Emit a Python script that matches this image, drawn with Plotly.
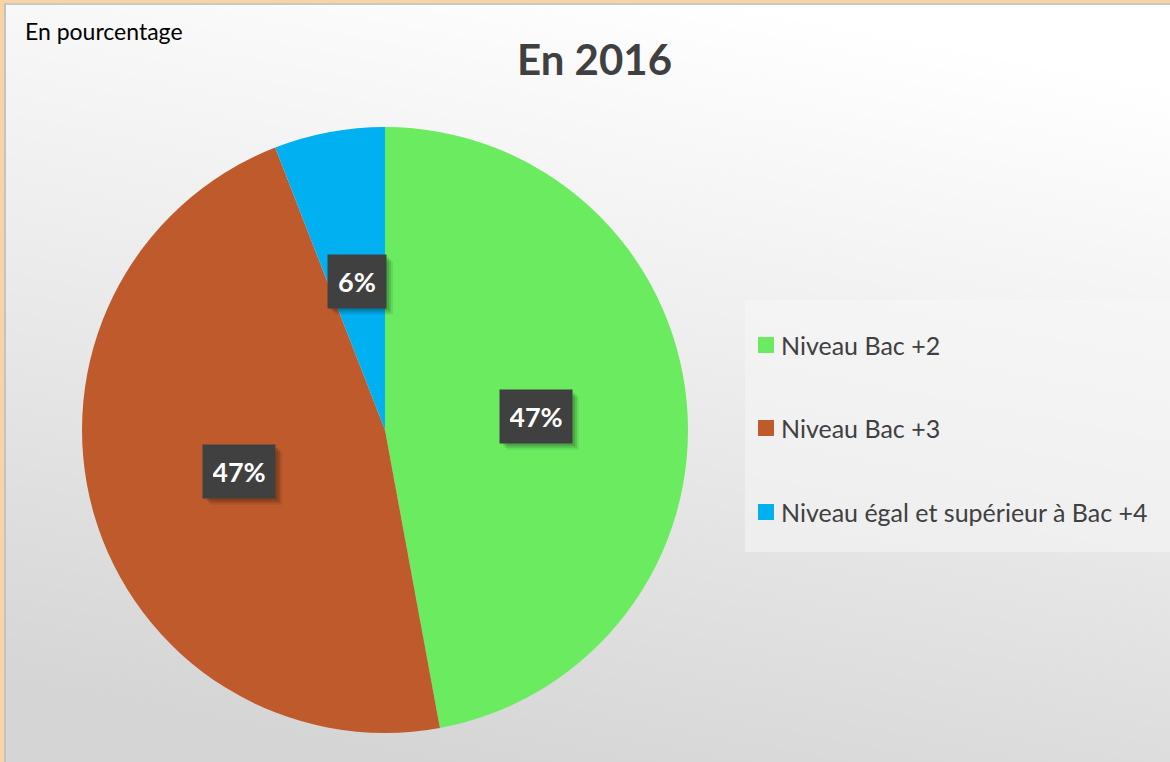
import math
import urllib.parse
import plotly.graph_objects as go

# ---- data ----
categories = ["Niveau Bac +2", "Niveau Bac +3", "Niveau égal et supérieur à Bac +4"]
values = [47.1, 47.0, 5.9]
colors = ["#6AEB60", "#BE5A2C", "#00B0F0"]
title_text = "En 2016"
unit_text = "En pourcentage"

W, H = 1170, 762
FONT = "Lato"

# pie geometry (pixels)
cx_px, cy_px, r_px = 385, 430, 303
dom_x = [(cx_px - r_px) / W, (cx_px + r_px) / W]
dom_y = [(H - cy_px - r_px) / H, (H - cy_px + r_px) / H]

fig = go.Figure()
fig.add_trace(go.Pie(
    labels=categories, values=values, sort=False, direction="clockwise", rotation=0,
    marker=dict(colors=colors, line=dict(width=0)),
    textinfo="none", hoverinfo="label+percent", showlegend=False,
    domain=dict(x=dom_x, y=dom_y),
))

# background gradient via inline svg
svg = (
    f'<svg xmlns="http://www.w3.org/2000/svg" width="{W-4}" height="{H-3}">'
    '<defs><linearGradient id="g" x1="0.65" y1="0" x2="0.35" y2="1">'
    '<stop offset="0" stop-color="#ffffff"/><stop offset="0.4" stop-color="#efefef"/>'
    '<stop offset="1" stop-color="#d5d5d5"/></linearGradient></defs>'
    f'<rect width="{W-4}" height="{H-3}" fill="url(#g)"/>'
    f'<line x1="1" y1="0" x2="1" y2="{H-3}" stroke="#c3c3c3" stroke-width="2"/>'
    f'<line x1="0" y1="1" x2="{W-4}" y2="1" stroke="#c8c8c8" stroke-width="2"/>'
    '</svg>'
)
src = "data:image/svg+xml;charset=utf-8," + urllib.parse.quote(svg)

images = [dict(source=src, xref="paper", yref="paper", x=4 / W, y=1 - 3 / H,
               sizex=1 - 4 / W, sizey=1 - 3 / H, sizing="stretch",
               xanchor="left", yanchor="top", layer="below")]

annotations = []
shapes = []

# data labels at mid-angle, half radius
BW, BH, PAD = 72, 53, 10
total = sum(values)
cum = 0
for v in values:
    mid = (cum + v / 2) / total * 2 * math.pi
    cum += v
    px = cx_px + 0.5 * r_px * math.sin(mid)
    py = cy_px - 0.5 * r_px * math.cos(mid)
    txt = f"{round(v / total * 100)}%"
    bw = BW if len(txt) > 2 else 58
    # soft shadow
    for off, a in ((7, 0.07), (5, 0.12), (3, 0.12)):
        shapes.append(dict(type="rect", xref="paper", yref="paper",
                           x0=(px - bw / 2 + off) / W, x1=(px + bw / 2 + off) / W,
                           y0=1 - (py + BH / 2 + off) / H, y1=1 - (py - BH / 2 + off) / H,
                           fillcolor=f"rgba(0,0,0,{a})", line=dict(width=0)))
    annotations.append(dict(x=px / W, y=1 - py / H, xref="paper", yref="paper",
                            xanchor="center", yanchor="middle",
                            text=f"<b>{txt}</b>", showarrow=False,
                            width=bw - 2 * PAD, height=BH - 2 * PAD, align="center", valign="middle",
                            font=dict(family=FONT, size=27, color="#ffffff"),
                            bgcolor="#404040", borderpad=PAD))

# legend box
shapes.append(dict(type="rect", xref="paper", yref="paper",
                   x0=745 / W, x1=1, y0=1 - 552 / H, y1=1 - 300 / H,
                   fillcolor="rgba(248,248,248,0.5)", line=dict(width=0), layer="below"))
leg_y = [345, 428, 512]
for cat, col, ly in zip(categories, colors, leg_y):
    shapes.append(dict(type="rect", xref="paper", yref="paper",
                       x0=758 / W, x1=774 / W, y0=1 - (ly + 8) / H, y1=1 - (ly - 8) / H,
                       fillcolor=col, line=dict(width=0)))
    annotations.append(dict(x=779 / W, y=1 - ly / H, xref="paper", yref="paper",
                            xanchor="left", yanchor="middle", text=cat, showarrow=False,
                            font=dict(family=FONT, size=25, color="#404040")))

# title and unit
annotations.append(dict(x=594 / W, y=1 - 59 / H, xref="paper", yref="paper",
                        xanchor="center", yanchor="middle", text=f"<b>{title_text}</b>",
                        showarrow=False, font=dict(family=FONT, size=42, color="#404040")))
annotations.append(dict(x=23 / W, y=1 - 31 / H, xref="paper", yref="paper",
                        xanchor="left", yanchor="middle", text=unit_text,
                        showarrow=False, font=dict(family=FONT, size=23, color="#000000")))

fig.update_layout(
    width=W, height=H, margin=dict(l=0, r=0, t=0, b=0),
    paper_bgcolor="#FAD3A5", plot_bgcolor="rgba(0,0,0,0)",
    images=images, annotations=annotations, shapes=shapes, showlegend=False,
)

fig.write_html("out.html", config={"displayModeBar": False},
               post_script="document.body.style.margin='0';")
